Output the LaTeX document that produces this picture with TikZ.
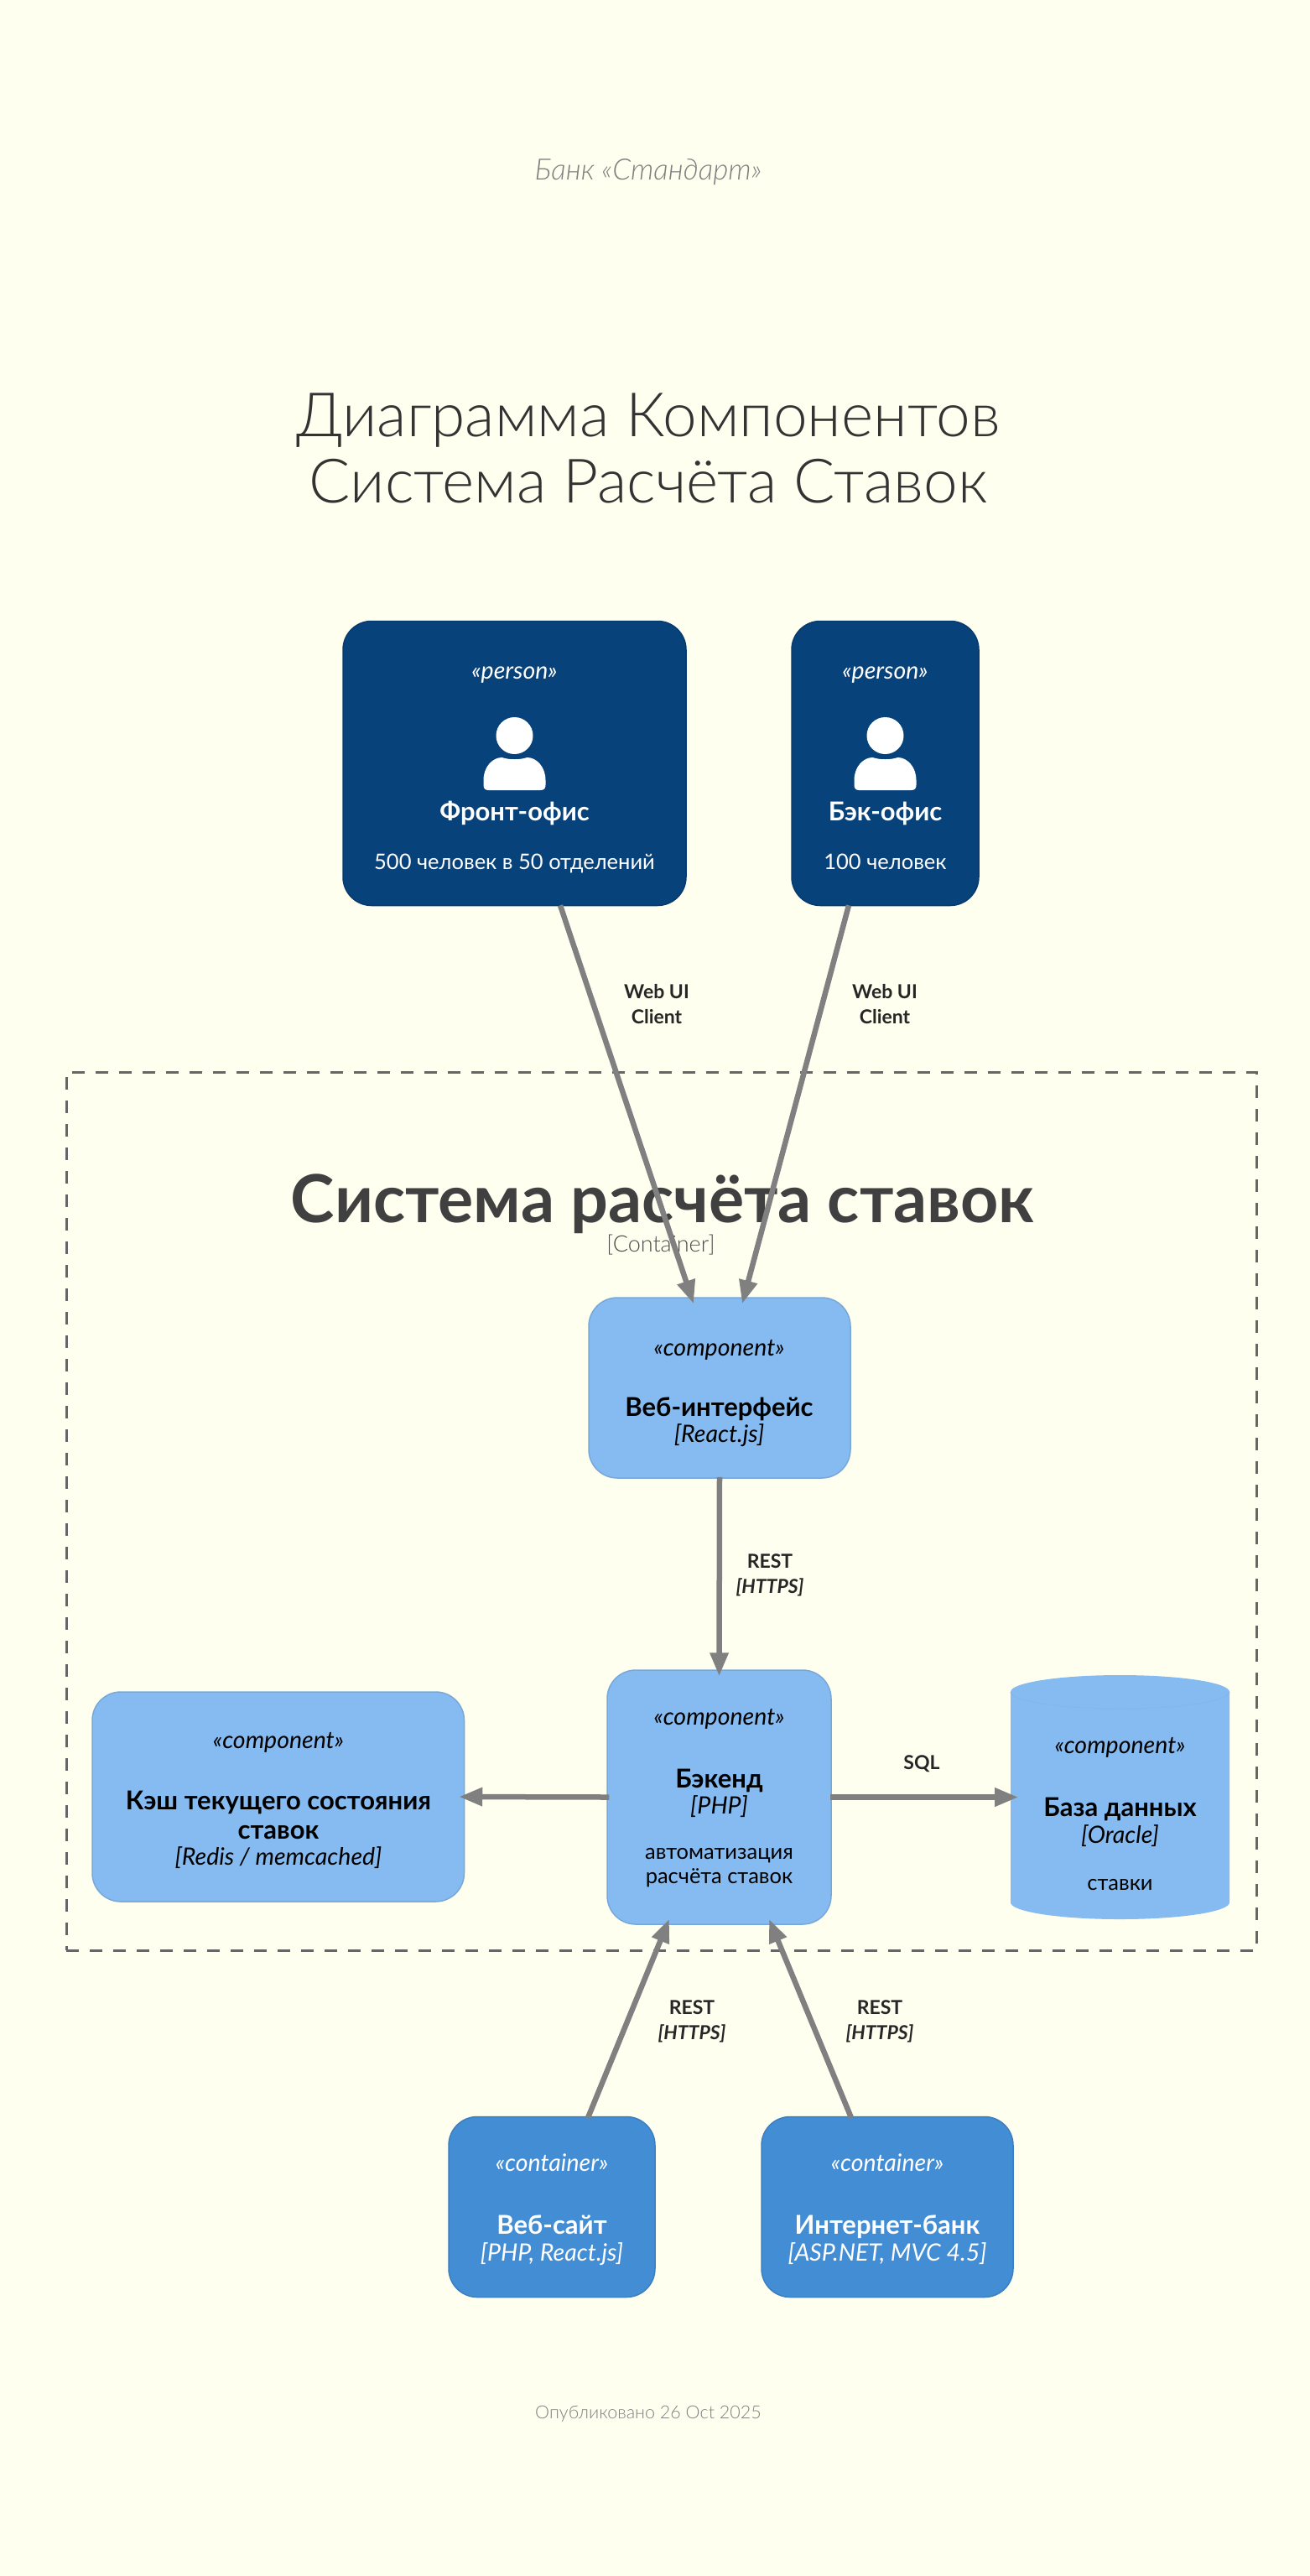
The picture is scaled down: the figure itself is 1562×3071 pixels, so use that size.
\documentclass[tikz,border=0pt]{standalone}
\usepackage{fontspec}
\setmainfont{Lato}[UprightFont=* Light,ItalicFont=* Light Italic,BoldFont=* Bold,BoldItalicFont=* Bold Italic]
\newfontfamily\bodyfont{Lato}
\usepackage{xcolor}
\usetikzlibrary{calc,arrows.meta}
\definecolor{pagebg}{HTML}{FFFFF0}
\definecolor{personfill}{HTML}{08427B}
\definecolor{personedge}{HTML}{073B6F}
\definecolor{contfill}{HTML}{438DD5}
\definecolor{contedge}{HTML}{3C7FC0}
\definecolor{compfill}{HTML}{85BBF0}
\definecolor{compedge}{HTML}{78A8D8}
\definecolor{relgray}{HTML}{808080}
\tikzset{
 box/.style={rectangle,rounded corners=34pt,line width=1.5pt,inner sep=0pt},
 personbox/.style={box,draw=personedge,fill=personfill},
 contbox/.style={box,draw=contedge,fill=contfill},
 compbox/.style={box,draw=compedge,fill=compfill},
 rel/.style={draw=relgray,line width=6.5pt,-{Triangle[length=28pt,width=21pt]}},
 txt/.style={text height=#1,text depth=0pt,inner sep=0pt},
 multi/.style={text height={},text depth={},align=center},
 stereo/.style={txt=20pt,font=\fontsize{28.5}{34}\bodyfont\itshape},
 title/.style={txt=22pt,font=\fontsize{31}{35}\selectfont\bfseries},
 tech/.style={txt=20pt,font=\fontsize{28.5}{34}\bodyfont\itshape},
 desc/.style={txt=18pt,font=\fontsize{25.5}{29}\bodyfont},
 rellabel/.style={inner sep=0pt,align=center,font=\fontsize{23}{30}\selectfont\bfseries,text=black!85},
}
\begin{document}
\begin{tikzpicture}[x=1pt,y=-1pt]
 \useasboundingbox (0,0) rectangle (1562,3071);
 \fill[pagebg] (0,0) rectangle (1562,3071);
 % header
 \node[txt=24pt,text=black!50,font=\fontsize{35}{40}\selectfont\itshape] (bank) at (773,202) {Банк «Стандарт»};
 \node[inner sep=0pt,text=black!80,font=\fontsize{73}{79}\selectfont,align=center] (heading) at (773,534) {Диаграмма Компонентов\\Система Расчёта Ставок};
 % boundary
 \node[draw=black!60,line width=3pt,dash pattern=on 15pt off 13pt,rectangle,minimum width=1419.5pt,minimum height=1047pt,inner sep=0pt] (boundary) at (788.75,1801.5) {};
 \node[txt=55pt,text=black!75,font=\fontsize{79}{88}\selectfont\bfseries] (boundtitle) at (790,1430) {Система расчёта ставок};
 \node[txt=19pt,text=black!70,font=\fontsize{27}{30}\selectfont] (boundtype) at (788,1483) {[Container]};
 % people
 \node[personbox,minimum width=409pt,minimum height=339pt] (front) at (613.5,910) {};
 \node[personbox,minimum width=223pt,minimum height=339pt] (back) at (1055.5,910) {};
 \foreach \cx in {613.5,1055.5} {
 	\fill[white] (\cx,877) circle (22);
 	\fill[white] (\cx-37,936) -- (\cx-37,930) .. controls (\cx-37,914) and (\cx-26,903) .. (\cx-15,903) .. controls (\cx-6,906) and (\cx+6,906) .. (\cx+15,903) .. controls (\cx+26,903) and (\cx+37,914) .. (\cx+37,930) -- (\cx+37,936) .. controls (\cx+37,940) and (\cx+35,942) .. (\cx+31,942) -- (\cx-31,942) .. controls (\cx-35,942) and (\cx-37,940) .. (\cx-37,936) -- cycle;
 }
 \node[stereo,text=white] (frontst) at (613.5,799) {«person»};
 \node[title,text=white] (frontnm) at (613.5,967) {Фронт-офис};
 \node[desc,text=white] (frontds) at (613.5,1027) {500 человек в 50 отделений};
 \node[stereo,text=white] (backst) at (1055.5,799) {«person»};
 \node[title,text=white] (backnm) at (1055.5,967) {Бэк-офис};
 \node[desc,text=white] (backds) at (1055.5,1027) {100 человек};
 % components
 \node[compbox,minimum width=312pt,minimum height=215pt] (web) at (858,1654.5) {};
 \node[stereo] (webst) at (857.5,1606) {«component»};
 \node[title] (webnm) at (857.5,1677) {Веб-интерфейс};
 \node[tech] (webtc) at (857.5,1709) {[React.js]};
 \node[compbox,minimum width=267pt,minimum height=303pt] (backend) at (857.5,2142.5) {};
 \node[stereo] (backendst) at (857.5,2046) {«component»};
 \node[title] (backendnm) at (857.5,2120) {Бэкенд};
 \node[tech] (backendtc) at (857.5,2152) {[PHP]};
 \node[desc,multi] (backendds) at (857.5,2226.5) {автоматизация\\расчёта ставок};
 \node[compbox,minimum width=443.5pt,minimum height=250pt] (cache) at (331.75,2142) {};
 \node[stereo] (cachest) at (332,2074) {«component»};
 \node[title,multi] (cachenm) at (332,2164) {Кэш текущего состояния\\ставок};
 \node[tech] (cachetc) at (332,2213) {[Redis / memcached]};
 \node[minimum width=261pt,minimum height=291pt,inner sep=0pt] (db) at (1335.5,2142.5) {};
 \fill[compfill] (1205,2017) .. controls (1205,2006) and (1263,1997) .. (1335.5,1997) .. controls (1408,1997) and (1466,2006) .. (1466,2017) -- (1466,2268) .. controls (1466,2279) and (1408,2288) .. (1335.5,2288) .. controls (1263,2288) and (1205,2279) .. (1205,2268) -- cycle;
 \draw[compfill!98!black,line width=1pt] (1205,2017) .. controls (1205,2028) and (1263,2037) .. (1335.5,2037) .. controls (1408,2037) and (1466,2028) .. (1466,2017);
 \node[stereo] (dbst) at (1335.5,2080) {«component»};
 \node[title] (dbnm) at (1335.5,2154) {База данных};
 \node[tech] (dbtc) at (1335.5,2187) {[Oracle]};
 \node[desc] (dbds) at (1335.5,2244) {ставки};
 % containers
 \node[contbox,minimum width=246pt,minimum height=215pt] (site) at (658,2631) {};
 \node[stereo,text=white] (sitest) at (658,2578) {«container»};
 \node[title,text=white] (sitenm) at (658,2652) {Веб-сайт};
 \node[tech,text=white] (sitetc) at (658,2685) {[PHP, React.js]};
 \node[contbox,minimum width=300pt,minimum height=215pt] (ibank) at (1058,2631) {};
 \node[stereo,text=white] (ibankst) at (1058,2578) {«container»};
 \node[title,text=white] (ibanknm) at (1058,2652) {Интернет-банк};
 \node[tech,text=white] (ibanktc) at (1058,2685) {[ASP.NET, MVC 4.5]};
 % relations
 \draw[rel] ($(front.south)+(54.5,-1)$) -- ($(web.north)+(-31,8)$);
 \draw[rel] ($(back.south)+(-43.5,-1)$) -- ($(web.north)+(27,8)$);
 \draw[rel] ($(web.south)+(0,-2)$) -- ($(backend.north)+(0,8)$);
 \draw[rel] ($(backend.west)+(3,0)$) -- ($(cache.east)+(-7,0)$);
 \draw[rel] ($(backend.east)+(-2,0)$) -- ($(db.east)+(-252,0)$);
 \draw[rel] ($(site.north)+(43,2)$) -- ($(backend.south)+(-59.5,-7)$);
 \draw[rel] ($(ibank.north)+(-43,2)$) -- ($(backend.south)+(59.5,-7)$);
 \node[rellabel] (lfront) at (783,1197) {Web UI\\Client};
 \node[rellabel] (lback) at (1055,1197) {Web UI\\Client};
 \node[rellabel] (lrest) at (918,1878) {REST\\\textit{[HTTPS]}};
 \node[rellabel] (lsql) at (1099,2103) {SQL};
 \node[rellabel] (lsite) at (825,2410) {REST\\\textit{[HTTPS]}};
 \node[rellabel] (libank) at (1049,2410) {REST\\\textit{[HTTPS]}};
 % footer
 \node[txt=15pt,text=black!50,font=\fontsize{21.5}{24}\selectfont] (published) at (773,2876) {Опубликовано 26 Oct 2025};
\end{tikzpicture}
\end{document}
